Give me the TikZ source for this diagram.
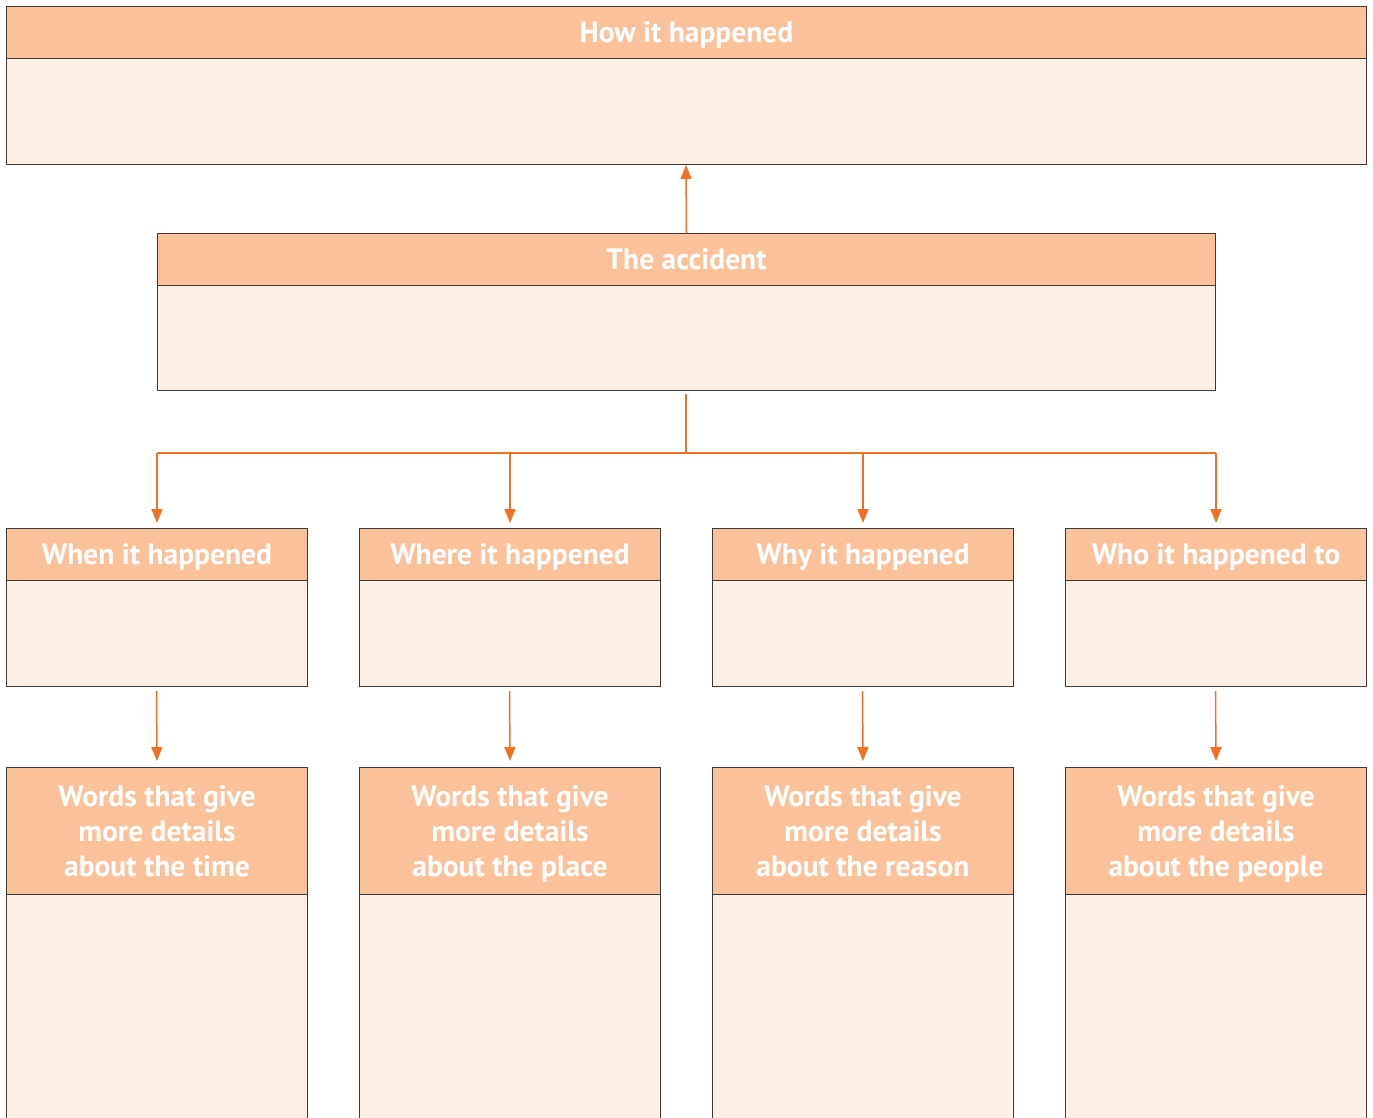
\documentclass[tikz,border=0pt]{standalone}
\usepackage{fontspec}
\setmainfont{PT Sans}
\usetikzlibrary{arrows.meta}
\definecolor{hdrfill}{HTML}{FBC19A}
\definecolor{bodyfill}{HTML}{FDEFE4}
\definecolor{bord}{HTML}{3A3A3A}
\definecolor{arr}{HTML}{F07124}
\tikzset{
  hdr/.style={draw=bord, fill=hdrfill, line width=1pt, minimum height=52pt, text=white,
    font=\bfseries\fontsize{29.5}{35}\selectfont, align=center, inner sep=0pt, anchor=north west,
    text height=20.5pt, text depth=0pt},
  hdrtall/.style={hdr, minimum height=127pt, text height=90.5pt},
  bdy/.style={draw=bord, fill=bodyfill, line width=1pt, inner sep=0pt, anchor=north},
  conn/.style={draw=arr, line width=1.5pt},
  arrowc/.style={conn, -{Triangle[length=14pt,width=11pt]}}
}
\begin{document}
\begin{tikzpicture}[x=1pt,y=-1pt]
\useasboundingbox (0,0) rectangle (1373,1117);
% top box
\node[bdy, minimum width=1360pt, minimum height=106pt] (b0) at (686,58) {};
\node[hdr, minimum width=1360pt] (h0) at (6,6) {How it happened};
% accident box
\node[bdy, minimum width=1058pt, minimum height=105pt] (b1) at (686,285) {};
\node[hdr, minimum width=1058pt] (h1) at (157,233) {The accident};
% middle boxes
\foreach \i/\x/\t in {2/6/When it happened, 3/359/Where it happened, 4/712/Why it happened, 5/1065/Who it happened to}{
  \node[bdy, minimum width=301pt, minimum height=106pt] (b\i) at (\x+150.5,580) {};
  \node[hdr, minimum width=301pt] (h\i) at (\x,528) {\t};
}
% bottom boxes
\foreach \i/\x/\t in {6/6/time, 7/359/place, 8/712/reason, 9/1065/people}{
  \node[bdy, minimum width=301pt, minimum height=260pt] (b\i) at (\x+150.5,894) {};
  \node[hdrtall, minimum width=301pt] (h\i) at (\x,767) {Words that give\\more details\\about the \t};
}
% connectors
\coordinate (j) at (686,453);
\draw[arrowc] (h1.north) -- (b0.south);
\draw[conn] ([yshift=-3pt]b1.south) -- (j);
\draw[conn] (h2.north |- j) -- (h5.north |- j);
\foreach \i/\k in {2/6,3/7,4/8,5/9}{
  \draw[arrowc] (h\i.north |- j) -- ([yshift=5pt]h\i.north);
  \draw[arrowc] ([yshift=-4pt]b\i.south) -- ([yshift=6pt]h\k.north);
}
\end{tikzpicture}
\end{document}
